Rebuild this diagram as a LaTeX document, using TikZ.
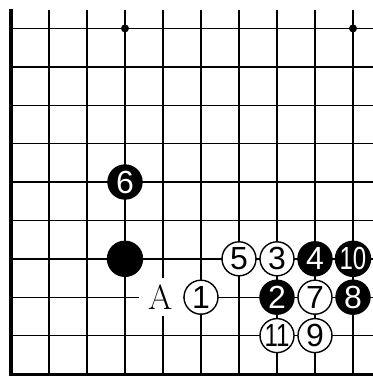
\documentclass[tikz,border=0pt]{standalone}
\usepackage{graphicx}
\usepackage{fontspec}
\newfontfamily\stonefont{Liberation Sans}
\newcommand\stonesize{\fontsize{32pt}{36pt}\selectfont}
\newcommand\marksize{\fontsize{35pt}{40pt}\selectfont}
\begin{document}
\begin{tikzpicture}[x=38pt, y=38.4pt,
    stone/.style={circle, draw=black, line width=1.4pt, minimum size=34pt, inner sep=0pt,
      font=\stonefont\stonesize},
    wstone/.style={stone, fill=white, text=black},
    bstone/.style={stone, fill=black, text=white}]
  % 0. 画布范围
  \useasboundingbox (-0.2895,-0.052) rectangle (9.526,9.74);

  % 1. 棋盘网格
  \foreach \i in {1,...,9}
    \draw[line width=2pt] (\i,0) -- (\i,9.48);
  \foreach \j in {1,...,9}
    \draw[line width=1.4pt] (0,\j) -- (9.6,\j);

  % 2. 棋盘边线 (左, 下)
  \draw[line width=4.5pt] (0,-0.05) -- (0,9.505);
  \draw[line width=3pt] (0,0) -- (9.6,0);

  % 3. 星位
  \fill (3,9) circle (4pt);
  \fill (9,9) circle (4pt);

  % 4. 标记 A (白底遮住网格线)
  \node[fill=white, minimum width=44pt, minimum height=38pt, inner sep=0pt, xshift=-2pt,
    font=\marksize] (markA) at (4,2) {A};

  % 5. 棋子
  \node[bstone, minimum size=35pt] (b44) at (3,3) {};
  \node[bstone] (m6) at (3,5) {6};
  \node[wstone] (m1) at (5,2) {1};
  \node[bstone] (m2) at (7,2) {2};
  \node[wstone] (m3) at (7,3) {3};
  \node[bstone] (m4) at (8,3) {4};
  \node[wstone] (m5) at (6,3) {5};
  \node[wstone] (m7) at (8,2) {7};
  \node[bstone] (m8) at (9,2) {8};
  \node[wstone] (m9) at (8,1) {9};
  \node[bstone] (m10) at (9,3) {\scalebox{0.75}[1]{10}};
  \node[wstone] (m11) at (7,1) {\scalebox{0.75}[1]{11}};
\end{tikzpicture}
\end{document}
